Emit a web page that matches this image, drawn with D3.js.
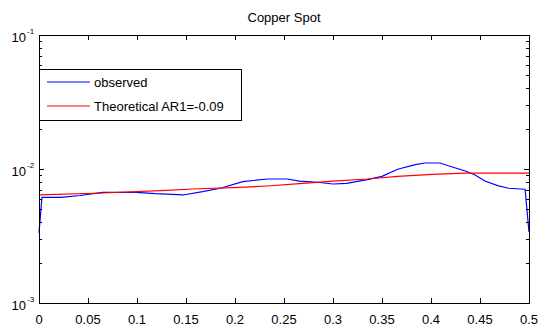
<!DOCTYPE html>
<html>
<head>
<meta charset="utf-8">
<script src="https://cdn.jsdelivr.net/npm/d3@7"></script>
<style>
  body { margin: 0; background: #fff; }
  svg { display: block; font-family: "Liberation Sans", Arial, sans-serif; }
</style>
</head>
<body>
<div id="chart"></div>
<script>
// observed spectrum (frequency, power)
const obsFreq = [0, 0.003, 0.0224, 0.042, 0.065, 0.099, 0.119, 0.147, 0.167, 0.185,
  0.208, 0.233, 0.253, 0.266, 0.284, 0.300, 0.314, 0.335, 0.350, 0.366,
  0.384, 0.394, 0.409, 0.421, 0.435, 0.445, 0.455, 0.468, 0.479, 0.496, 0.5];
const obsValues = [3.33e-3, 6.15e-3, 6.15e-3, 6.34e-3, 6.70e-3, 6.70e-3, 6.54e-3, 6.40e-3, 6.77e-3, 7.18e-3,
  8.04e-3, 8.42e-3, 8.42e-3, 8.13e-3, 7.96e-3, 7.73e-3, 7.81e-3, 8.32e-3, 8.82e-3, 9.95e-3,
  1.077e-2, 1.109e-2, 1.109e-2, 1.040e-2, 9.66e-3, 9.02e-3, 8.13e-3, 7.51e-3, 7.18e-3, 7.06e-3, 3.39e-3];

// theoretical AR1 spectrum
const theoFreq = [0, 0.065, 0.13, 0.157, 0.198, 0.233, 0.266, 0.3, 0.335, 0.366, 0.401, 0.435, 0.5];
const theoValues = [6.40e-3, 6.62e-3, 6.93e-3, 7.09e-3, 7.25e-3, 7.47e-3, 7.77e-3, 8.13e-3, 8.42e-3, 8.82e-3, 9.13e-3, 9.33e-3, 9.33e-3];

const xTicks = [0, 0.05, 0.1, 0.15, 0.2, 0.25, 0.3, 0.35, 0.4, 0.45, 0.5];
const xTickLabels = ['0', '0.05', '0.1', '0.15', '0.2', '0.25', '0.3', '0.35', '0.4', '0.45', '0.5'];
const yMajor = [1e-3, 1e-2, 1e-1];
const yExpLabels = ['-3', '-2', '-1'];
const legendLabels = ['observed', 'Theoretical AR1=-0.09'];
const colors = ['#0000ff', '#ff0000'];

const dimensions = {
  width: 542,
  height: 329,
  margin: { top: 35, right: 13, bottom: 26, left: 39 }
};
dimensions.ctrWidth = dimensions.width - dimensions.margin.left - dimensions.margin.right;
dimensions.ctrHeight = dimensions.height - dimensions.margin.top - dimensions.margin.bottom;

const svg = d3.select('#chart')
  .append('svg')
  .attr('width', dimensions.width)
  .attr('height', dimensions.height);

const ctr = svg.append('g')
  .attr('transform', `translate(${dimensions.margin.left}, ${dimensions.margin.top})`);

const xScale = d3.scaleLinear()
  .domain([0, 0.5])
  .range([0, dimensions.ctrWidth]);

const yScale = d3.scaleLog()
  .domain([1e-3, 1e-1])
  .range([dimensions.ctrHeight, 0]);

// minor ticks: 2..9 in each decade
const yMinor = yScale.ticks().filter(v => !yMajor.some(m => Math.abs(m - v) / m < 1e-6));

// curves
const line = d3.line()
  .x(d => xScale(d[0]))
  .y(d => yScale(d[1]));

const series = [
  d3.zip(obsFreq, obsValues),
  d3.zip(theoFreq, theoValues)
];

ctr.selectAll('path.curve')
  .data(series)
  .join('path')
  .attr('class', 'curve')
  .attr('fill', 'none')
  .attr('stroke', (d, i) => colors[i])
  .attr('stroke-width', 1.2)
  .attr('d', line);

// axes (ticks inward, on all four sides)
const axisG = ctr.append('g').attr('shape-rendering', 'crispEdges');

axisG.append('g')
  .attr('transform', `translate(0, ${dimensions.ctrHeight})`)
  .call(d3.axisBottom(xScale).tickValues(xTicks).tickSize(-5).tickFormat(''));
axisG.append('g')
  .call(d3.axisTop(xScale).tickValues(xTicks).tickSize(-5).tickFormat(''));
axisG.append('g')
  .call(d3.axisLeft(yScale).tickValues(yMajor).tickSize(-5).tickFormat(''));
axisG.append('g')
  .call(d3.axisLeft(yScale).tickValues(yMinor).tickSize(-3).tickFormat(''));
axisG.append('g')
  .attr('transform', `translate(${dimensions.ctrWidth}, 0)`)
  .call(d3.axisRight(yScale).tickValues(yMajor).tickSize(-5).tickFormat(''));
axisG.append('g')
  .attr('transform', `translate(${dimensions.ctrWidth}, 0)`)
  .call(d3.axisRight(yScale).tickValues(yMinor).tickSize(-3).tickFormat(''));

axisG.selectAll('.domain').remove();
axisG.selectAll('.tick line').attr('stroke', '#000');

axisG.append('rect')
  .attr('x', 0)
  .attr('y', 0)
  .attr('width', dimensions.ctrWidth)
  .attr('height', dimensions.ctrHeight)
  .attr('fill', 'none')
  .attr('stroke', '#000');

// x tick labels
ctr.append('g')
  .selectAll('text')
  .data(xTicks)
  .join('text')
  .attr('x', d => xScale(d))
  .attr('y', dimensions.ctrHeight + 21)
  .attr('text-anchor', 'middle')
  .attr('font-size', 13)
  .text((d, i) => xTickLabels[i]);

// y tick labels 10^n
const yLab = ctr.append('g')
  .selectAll('g')
  .data(yMajor)
  .join('g')
  .attr('transform', d => `translate(-13, ${yScale(d)})`);

yLab.append('text')
  .attr('x', 0)
  .attr('y', 7)
  .attr('text-anchor', 'end')
  .attr('font-size', 13)
  .text('10');

yLab.append('text')
  .attr('x', 1)
  .attr('y', -1)
  .attr('font-size', 8)
  .text((d, i) => yExpLabels[i]);

// title
svg.append('text')
  .attr('x', dimensions.margin.left + dimensions.ctrWidth / 2)
  .attr('y', 22)
  .attr('text-anchor', 'middle')
  .attr('font-size', 13)
  .text('Copper Spot');

// legend
const legend = ctr.append('g')
  .attr('transform', 'translate(0, 34)');

legend.append('rect')
  .attr('x', 0)
  .attr('y', 0)
  .attr('width', 202)
  .attr('height', 51)
  .attr('fill', '#fff')
  .attr('stroke', '#000')
  .attr('shape-rendering', 'crispEdges');

const item = legend.selectAll('g.item')
  .data(legendLabels)
  .join('g')
  .attr('class', 'item')
  .attr('transform', (d, i) => `translate(0, ${13 + i * 24})`);

item.append('line')
  .attr('x1', 8)
  .attr('x2', 51)
  .attr('stroke', (d, i) => colors[i])
  .attr('stroke-width', 1.2);

item.append('text')
  .attr('x', 55)
  .attr('y', 5)
  .attr('font-size', 13)
  .text(d => d);
</script>
</body>
</html>
